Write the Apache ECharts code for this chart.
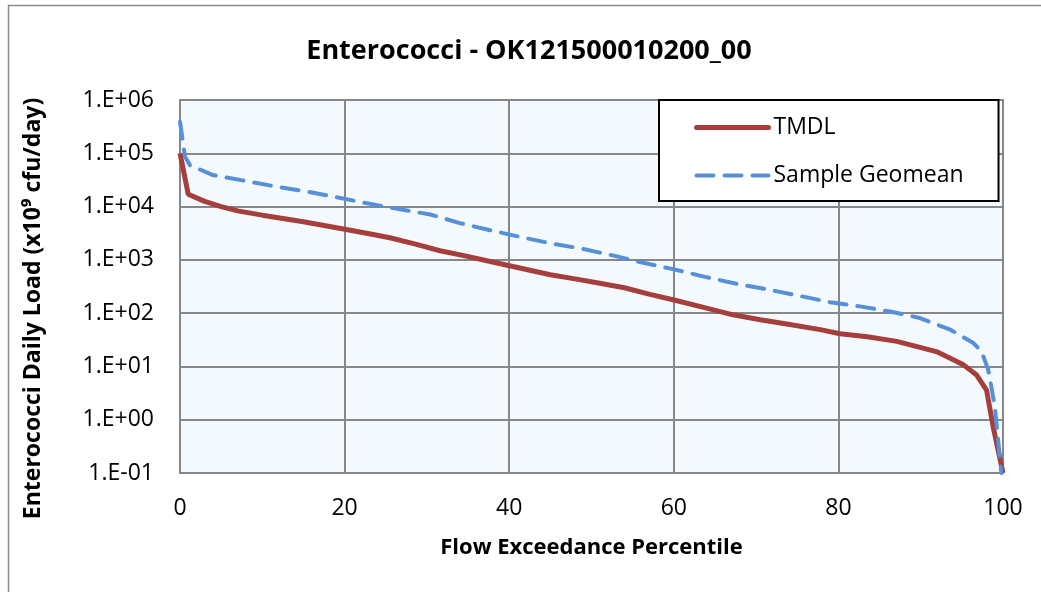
<!DOCTYPE html>
<html>
<head>
<meta charset="utf-8">
<script src="https://cdn.jsdelivr.net/npm/echarts@6/dist/echarts.min.js"></script>
<style>
  html, body { margin: 0; padding: 0; background: #fff; }
  #chart { width: 1041px; height: 592px; }
</style>
</head>
<body>
<div id="chart"></div>
<script>
// ---- data ----
const titleText = 'Enterococci - OK121500010200_00';
const xAxisName = 'Flow Exceedance Percentile';
const yAxisName = 'Enterococci Daily Load (x10\u2079 cfu/day)';
const seriesNames = ['TMDL', 'Sample Geomean'];

const tmdlX = [0, 1, 3, 5, 7, 10, 15, 20.7, 23, 25.5, 28.5, 31.6, 34.5, 37.7, 41, 45, 48, 51, 54, 57.1, 59.9, 63.5, 67.2, 70.5, 74.1, 77.8, 80.2, 83.5, 87.1, 91.9, 95.2, 96.8, 98.0, 98.8, 100];
const tmdlY = [1e5, 1.7e4, 1.25e4, 1.0e4, 8.3e3, 6.9e3, 5.2e3, 3.6e3, 3.1e3, 2.6e3, 2.0e3, 1.48e3, 1.2e3, 930, 720, 525, 440, 365, 300, 225, 178, 130, 93, 75, 61, 49, 41, 36, 29.5, 19, 10.7, 6.9, 3.6, 0.74, 0.1];

const geoX = [0, 0.6, 1.2, 4, 7.6, 11.8, 15.5, 19, 22.1, 26.7, 30.4, 34.0, 37.7, 41.3, 45.0, 49.0, 52.7, 56.3, 59.9, 63.8, 67.6, 71.3, 75.1, 79.0, 82.6, 86.3, 89.9, 93.6, 96.4, 97.4, 98.2, 99.0, 99.8];
const geoY = [3.9e5, 8.7e4, 6.0e4, 3.9e4, 3.1e4, 2.35e4, 1.9e4, 1.5e4, 1.2e4, 8.9e3, 7.1e3, 4.9e3, 3.6e3, 2.7e3, 2.05e3, 1.6e3, 1.2e3, 880, 670, 480, 355, 280, 214, 160, 134, 107, 81, 49, 27.5, 19, 8.7, 1.8, 0.1];

const xMin = 0, xMax = 100, xStep = 20;
const yMin = 0.1, yMax = 1e6;

function sciLabel(v) {
  const e = Math.round(Math.log10(v));
  const s = e < 0 ? '-' : '+';
  const a = Math.abs(e);
  return '1.E' + s + (a < 10 ? '0' + a : '' + a);
}

const FONT = "'Open Sans', 'Liberation Sans', sans-serif";

const chart = echarts.init(document.getElementById('chart'), null, { renderer: 'canvas' });
chart.setOption({
  backgroundColor: '#ffffff',
  animation: false,
  graphic: [{
    type: 'rect',
    shape: { x: 8.5, y: 5.5, width: 1100, height: 700 },
    style: { fill: 'none', stroke: '#8c8c8c', lineWidth: 1.5 },
    silent: true, z: -10
  }],
  title: {
    text: titleText,
    left: 524,
    textAlign: 'center',
    top: 33,
    textStyle: { fontFamily: FONT, fontWeight: 'bold', fontSize: 27, color: '#000' }
  },
  grid: {
    left: 180, right: 38, top: 100, bottom: 119,
    show: true,
    backgroundColor: '#F4F9FE',
    borderColor: '#878787',
    borderWidth: 2
  },
  legend: {
    orient: 'vertical',
    left: 659,
    top: 100,
    backgroundColor: '#ffffff',
    borderColor: '#000000',
    borderWidth: 2,
    padding: [16, 35, 14, 35],
    itemWidth: 72,
    itemHeight: 14,
    itemGap: 25,
    itemStyle: { opacity: 0 },
    lineStyle: { width: 'inherit', cap: 'round' },
    textStyle: { fontFamily: FONT, fontSize: 23, color: '#000' },
    data: seriesNames
  },
  xAxis: {
    type: 'value',
    min: xMin, max: xMax, interval: xStep,
    name: xAxisName,
    nameLocation: 'middle',
    nameGap: 64,
    nameTextStyle: { fontFamily: FONT, fontWeight: 'bold', fontSize: 22, color: '#000' },
    axisLine: { show: true, lineStyle: { color: '#878787', width: 2 } },
    axisTick: { show: false },
    axisLabel: { fontFamily: FONT, fontSize: 23, color: '#000', margin: 24 },
    splitLine: { show: true, lineStyle: { color: '#878787', width: 2 } }
  },
  yAxis: {
    type: 'log',
    logBase: 10,
    min: yMin, max: yMax,
    interval: 1,
    splitNumber: 7,
    name: yAxisName,
    nameLocation: 'middle',
    nameGap: 135,
    nameRotate: 90,
    nameTextStyle: { fontFamily: FONT, fontWeight: 'bold', fontSize: 23, color: '#000', padding: [0, 44, 0, 0] },
    axisLine: { show: true, lineStyle: { color: '#878787', width: 2 } },
    axisTick: { show: false },
    axisLabel: { fontFamily: FONT, fontSize: 23, color: '#000', margin: 26, formatter: sciLabel },
    splitLine: { show: true, lineStyle: { color: '#878787', width: 2 } }
  },
  series: [
    {
      name: seriesNames[0],
      type: 'line',
      symbol: 'none',
      data: tmdlX.map((x, i) => [x, tmdlY[i]]),
      lineStyle: { color: '#A63F3C', width: 5 },
      itemStyle: { color: '#A63F3C' },
      z: 2
    },
    {
      name: seriesNames[1],
      type: 'line',
      symbol: 'none',
      data: geoX.map((x, i) => [x, geoY[i]]),
      lineStyle: { color: '#5590D9', width: 4, type: [17, 11], cap: 'round' },
      itemStyle: { color: '#5590D9' },
      z: 3
    }
  ]
});
</script>
</body>
</html>
